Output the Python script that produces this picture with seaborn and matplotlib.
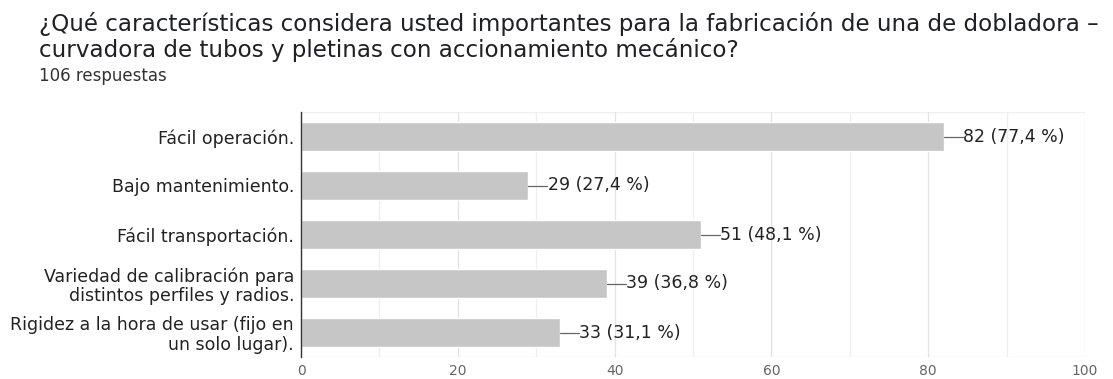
import matplotlib
matplotlib.use("Agg")
import matplotlib.pyplot as plt
import seaborn as sns
import pandas as pd
from matplotlib.ticker import MultipleLocator

categories = [
    "Fácil operación.",
    "Bajo mantenimiento.",
    "Fácil transportación.",
    "Variedad de calibración para\ndistintos perfiles y radios.",
    "Rigidez a la hora de usar (fijo en\nun solo lugar).",
]
counts = [82, 29, 51, 39, 33]
percents = ["77,4", "27,4", "48,1", "36,8", "31,1"]
xticks = [0, 20, 40, 60, 80, 100]

title_lines = [
    "¿Qué características considera usted importantes para la fabricación de una de dobladora –",
    "curvadora de tubos y pletinas con accionamiento mecánico?",
]
subtitle = "106 respuestas"

sns.set_theme(style="white")
plt.rcParams["font.family"] = ["DejaVu Sans"]

df = pd.DataFrame({"cat": categories, "n": counts})

W, H = 1113, 379
fig = plt.figure(figsize=(W / 100, H / 100), dpi=100)
ax = fig.add_axes([301 / W, 1 - 357 / H, (1085 - 301) / W, (357 - 112) / H])

sns.barplot(data=df, y="cat", x="n", color="#c6c6c6", saturation=1,
            width=0.61, ax=ax, orient="h")

ax.set_xlim(0, 100)
ax.set_xticks(xticks)
ax.xaxis.set_minor_locator(MultipleLocator(10))
ax.grid(axis="x", which="major", color="#e2e2e2", linewidth=0.9)
ax.grid(axis="x", which="minor", color="#efefef", linewidth=0.9)
ax.set_axisbelow(True)
for s in ["top", "right", "bottom"]:
    ax.spines[s].set_visible(False)
ax.spines["left"].set_color("#333333")
ax.spines["left"].set_linewidth(1.0)
ax.spines["left"].set_zorder(5)
ax.axhline(len(categories) - 0.5, color="#e2e2e2", linewidth=0.9, zorder=0)
ax.axhline(-0.5, color="#efefef", linewidth=0.9, zorder=0)
ax.set_xlabel("")
ax.set_ylabel("")
ax.tick_params(axis="x", which="both", length=0, labelsize=10, labelcolor="#666666", pad=5)
ax.tick_params(axis="y", length=0, labelsize=12.5, labelcolor="#222222", pad=5)
for lbl in ax.get_yticklabels():
    lbl.set_horizontalalignment("right")
    lbl.set_multialignment("right")
    lbl.set_linespacing(1.12)

for i, (n, p) in enumerate(zip(counts, percents)):
    ax.plot([n, n + 2.4], [i, i], color="#666666", linewidth=0.9)
    ax.text(n + 2.5, i, f"{n} ({p} %)", va="center", ha="left",
            fontsize=12.5, color="#222222")

ax.set_ylim(len(categories) - 0.5, -0.5)

fig.text(39 / W, 1 - 31 / H, title_lines[0], ha="left", va="baseline",
         fontsize=16.6, color="#202124")
fig.text(39 / W, 1 - 57 / H, title_lines[1], ha="left", va="baseline",
         fontsize=16.6, color="#202124")
fig.text(39 / W, 1 - 81 / H, subtitle, ha="left", va="baseline",
         fontsize=12, color="#333333")

fig.savefig("out.png", dpi=100)
